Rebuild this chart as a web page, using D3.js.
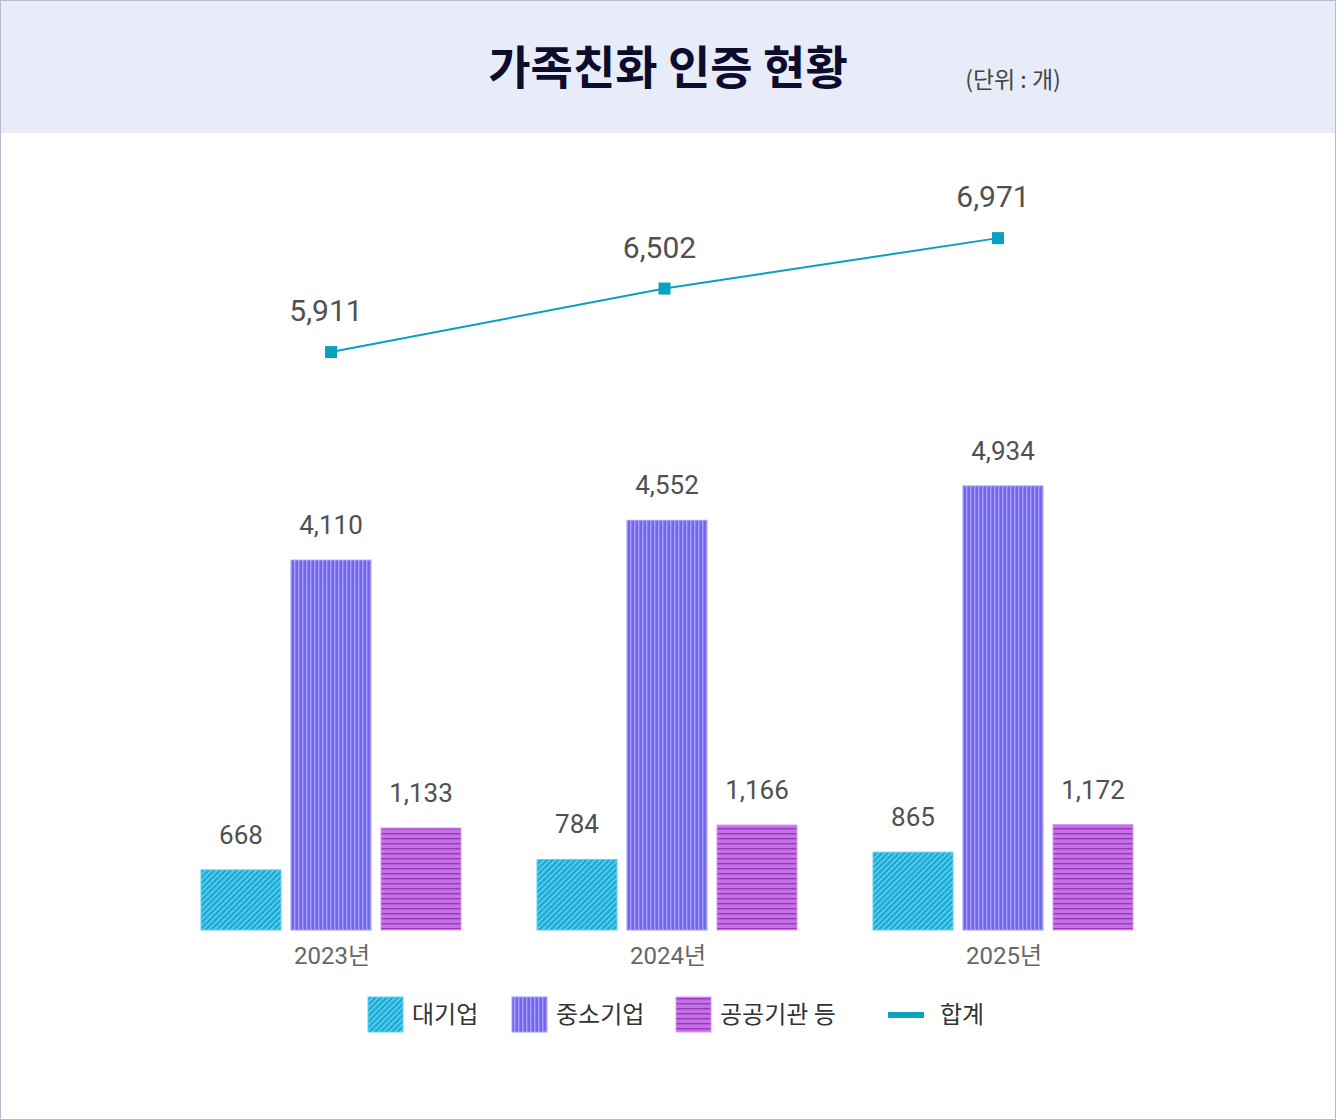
<!DOCTYPE html>
<html>
<head>
<meta charset="utf-8">
<script src="https://cdn.jsdelivr.net/npm/d3@7"></script>
<style>
  body { margin: 0; background: #fff; }
  svg { display: block; font-family: Roboto, "Noto Sans CJK KR", sans-serif; }
</style>
</head>
<body>
<svg width="1336" height="1120"></svg>
<script>
const years = ['2023년', '2024년', '2025년']
const seriesNames = ['대기업', '중소기업', '공공기관 등']
const large = [668, 784, 865]
const smes = [4110, 4552, 4934]
const publicOrgs = [1133, 1166, 1172]
const totals = [5911, 6502, 6971]
const totalName = '합계'

let svg = d3.select('svg')
let W = +svg.attr('width'), H = +svg.attr('height')
let fmt = d3.format(',')

// patterns
let defs = svg.append('defs')
let p1 = defs.append('pattern').attr('id', 'pat0').attr('patternUnits', 'userSpaceOnUse')
    .attr('width', 4).attr('height', 4).attr('patternTransform', 'rotate(45)')
p1.append('rect').attr('width', 4).attr('height', 4).attr('fill', '#18a8d5')
p1.append('rect').attr('width', 1.6).attr('height', 4).attr('fill', '#62d2f0')

let p2 = defs.append('pattern').attr('id', 'pat1').attr('patternUnits', 'userSpaceOnUse')
    .attr('width', 4).attr('height', 4)
p2.append('rect').attr('width', 4).attr('height', 4).attr('fill', '#7464ee')
p2.append('rect').attr('x', 2).attr('width', 1.5).attr('height', 4).attr('fill', '#a39cf8')

let p3 = defs.append('pattern').attr('id', 'pat2').attr('patternUnits', 'userSpaceOnUse')
    .attr('width', 4).attr('height', 5)
p3.append('rect').attr('width', 4).attr('height', 5).attr('fill', '#c372e2')
p3.append('rect').attr('y', 3).attr('width', 4).attr('height', 1.4).attr('fill', '#9d33c4')

let fills = ['url(#pat0)', 'url(#pat1)', 'url(#pat2)']
let edges = ['#5fd0ee', '#a49cf6', '#d89af0']

// background / header
svg.append('rect').attr('x', 0.5).attr('y', 0.5).attr('width', W - 1).attr('height', H - 1)
    .attr('fill', '#fff').attr('stroke', '#b8b8d2')
svg.append('rect').attr('x', 1).attr('y', 1).attr('width', W - 2).attr('height', 132)
    .attr('fill', '#e8ecf8')

svg.append('text')
    .attr('x', 668).attr('y', 84)
    .attr('text-anchor', 'middle')
    .attr('font-size', 46).attr('font-weight', 700)
    .attr('fill', '#0d0c2c')
    .attr('font-family', '"Noto Sans CJK KR", sans-serif')
    .text('가족친화 인증 현황')

svg.append('text')
    .attr('x', 1013).attr('y', 88)
    .attr('text-anchor', 'middle')
    .attr('font-size', 23)
    .attr('fill', '#444')
    .attr('font-family', '"Noto Sans CJK KR", sans-serif')
    .text('(단위 : 개)')

// scales
let scale = {
    x: d3.scaleBand().domain(years).range([163, 1171]),
    y: d3.scaleLinear().domain([0, 5000]).range([930, 480]),
    yLine: d3.scaleLinear().domain([5000, 7000]).range([450, 235]),
    xLine: d3.scalePoint().domain(years).range([331, 998])
}
let barW = 80, gap = 90

let series = [large, smes, publicOrgs]

let g = svg.append('g')

series.forEach((vals, si) => {
    let off = (si - 1) * gap
    g.selectAll('.bar' + si)
        .data(vals)
        .enter()
        .append('rect')
        .attr('x', (d, i) => scale.x(years[i]) + scale.x.bandwidth() / 2 + off - barW / 2)
        .attr('y', d => scale.y(d))
        .attr('width', barW)
        .attr('height', d => scale.y(0) - scale.y(d))
        .attr('fill', fills[si])
        .attr('stroke', edges[si]).attr('stroke-width', 1)

    g.selectAll('.lab' + si)
        .data(vals)
        .enter()
        .append('text')
        .attr('x', (d, i) => scale.x(years[i]) + scale.x.bandwidth() / 2 + off)
        .attr('y', d => scale.y(d) - 26)
        .attr('text-anchor', 'middle')
        .attr('font-size', 26)
        .attr('fill', '#505050')
        .text(d => fmt(d))
})

// x labels
g.selectAll('.xlab')
    .data(years)
    .enter()
    .append('text')
    .attr('x', d => scale.x(d) + scale.x.bandwidth() / 2 + 1)
    .attr('y', 964)
    .attr('text-anchor', 'middle')
    .attr('font-size', 24)
    .attr('fill', '#666')
    .text(d => d)

// total line
let lx = (d, i) => scale.xLine(years[i])
let line = d3.line().x(lx).y(d => scale.yLine(d))
g.append('path')
    .datum(totals)
    .attr('d', line)
    .attr('fill', 'none')
    .attr('stroke', '#0a9fbf')
    .attr('stroke-width', 2)

g.selectAll('.pt')
    .data(totals)
    .enter()
    .append('rect')
    .attr('x', (d, i) => lx(d, i) - 6)
    .attr('y', d => scale.yLine(d) - 6)
    .attr('width', 12).attr('height', 12)
    .attr('fill', '#08a2bf')

g.selectAll('.ptlab')
    .data(totals)
    .enter()
    .append('text')
    .attr('x', (d, i) => lx(d, i) - 5)
    .attr('y', d => scale.yLine(d) - 31)
    .attr('text-anchor', 'middle')
    .attr('font-size', 30)
    .attr('fill', '#505050')
    .text(d => fmt(d))

// legend
let legend = [
    { name: seriesNames[0], x: 368, fill: fills[0], edge: edges[0] },
    { name: seriesNames[1], x: 512, fill: fills[1], edge: edges[1] },
    { name: seriesNames[2], x: 676, fill: fills[2], edge: edges[2] }
]
let lg = svg.append('g')
legend.forEach(l => {
    lg.append('rect').attr('x', l.x).attr('y', 997).attr('width', 35).attr('height', 35)
        .attr('fill', l.fill).attr('stroke', l.edge)
    lg.append('text').attr('x', l.x + 44).attr('y', 1023)
        .attr('font-size', 24).attr('fill', '#333')
        .attr('font-family', '"Noto Sans CJK KR", sans-serif')
        .text(l.name)
})
lg.append('rect').attr('x', 888).attr('y', 1012).attr('width', 36).attr('height', 6).attr('fill', '#0aa3bf')
lg.append('text').attr('x', 940).attr('y', 1023)
    .attr('font-size', 24).attr('fill', '#333')
    .attr('font-family', '"Noto Sans CJK KR", sans-serif')
    .text(totalName)
</script>
</body>
</html>
